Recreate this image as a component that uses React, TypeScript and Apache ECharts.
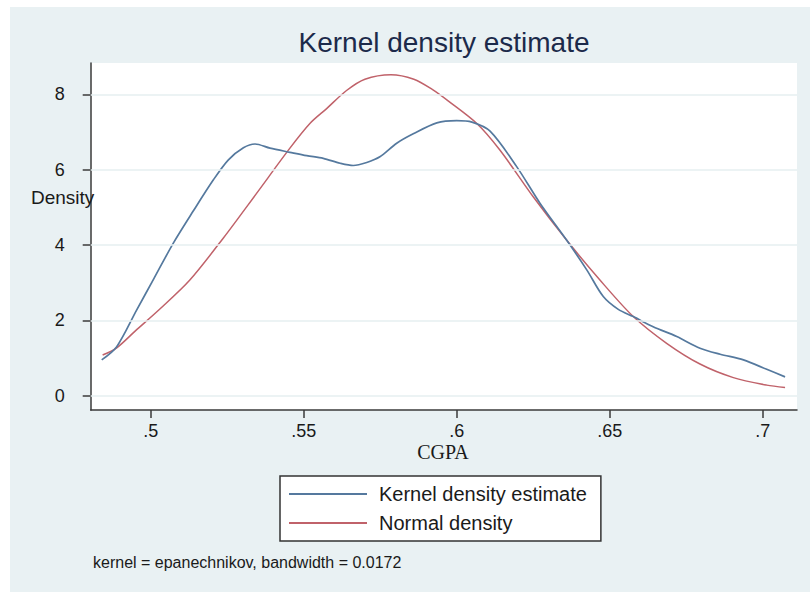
import { useEffect, useRef } from 'react';
import * as echarts from 'echarts';

const kernelX = [0.4840, 0.4889, 0.4954, 0.5010, 0.5074, 0.5139, 0.5205, 0.5254, 0.5303, 0.5341, 0.5390, 0.5455, 0.5510, 0.5564, 0.5619, 0.5662, 0.5706, 0.5749, 0.5804, 0.5858, 0.5935, 0.6000, 0.6050, 0.6109, 0.6196, 0.6272, 0.6359, 0.6425, 0.6479, 0.6528, 0.6577, 0.6642, 0.6719, 0.6795, 0.6861, 0.6937, 0.7013, 0.7073];
const kernelY = [0.95, 1.30, 2.27, 3.10, 4.05, 4.90, 5.73, 6.26, 6.58, 6.68, 6.57, 6.46, 6.37, 6.30, 6.17, 6.11, 6.19, 6.34, 6.70, 6.95, 7.24, 7.30, 7.26, 7.02, 6.08, 5.11, 4.13, 3.34, 2.63, 2.29, 2.10, 1.83, 1.57, 1.26, 1.10, 0.95, 0.70, 0.50];

const normalX = [0.4843, 0.4889, 0.4950, 0.5030, 0.5128, 0.5237, 0.5346, 0.5455, 0.5521, 0.5575, 0.5640, 0.5700, 0.5785, 0.5860, 0.5920, 0.5973, 0.6065, 0.6141, 0.6250, 0.6359, 0.6468, 0.6577, 0.6686, 0.6795, 0.6904, 0.7013, 0.7073];
const normalY = [1.08, 1.27, 1.72, 2.30, 3.07, 4.18, 5.37, 6.57, 7.23, 7.62, 8.10, 8.40, 8.52, 8.40, 8.13, 7.82, 7.23, 6.52, 5.28, 4.13, 3.07, 2.10, 1.39, 0.84, 0.48, 0.28, 0.22];

const xTicks = [0.5, 0.55, 0.6, 0.65, 0.7];
const xTickLabels = ['.5', '.55', '.6', '.65', '.7'];
const yTicks = [0, 2, 4, 6, 8];
const yTickLabels = ['0', '2', '4', '6', '8'];

const seriesNames = ['Kernel density estimate', 'Normal density'];
const titleText = 'Kernel density estimate';
const xName = 'CGPA';
const yName = 'Density';
const noteText = 'kernel = epanechnikov, bandwidth = 0.0172';

const SANS = '"Liberation Sans", Arial, sans-serif';
const SERIF = '"Liberation Serif", "Times New Roman", serif';
const BLUE = '#55799e';
const RED = '#c0626a';
const TEXT = '#1a1a1a';

export default function App() {
  const ref = useRef<HTMLDivElement>(null);

  useEffect(() => {
    document.body.style.margin = '0';
    document.body.style.background = '#ffffff';
    if (!ref.current) return;
    const chart = echarts.init(ref.current, undefined, { renderer: 'svg' });
    const fmtX = (v: number) => {
      const i = xTicks.findIndex((t) => Math.abs(t - v) < 1e-9);
      return i >= 0 ? xTickLabels[i] : '';
    };
    const fmtY = (v: number) => {
      const i = yTicks.findIndex((t) => Math.abs(t - v) < 1e-9);
      return i >= 0 ? yTickLabels[i] : '';
    };
    chart.setOption({
      animation: false,
      backgroundColor: 'transparent',
      grid: {
        left: 90.7,
        top: 63,
        right: 13,
        bottom: 182,
        show: true,
        backgroundColor: '#ffffff',
        borderWidth: 0,
        containLabel: false,
      },
      xAxis: {
        type: 'value',
        min: 0.4804,
        max: 0.7112,
        axisLine: { show: true, onZero: false, lineStyle: { color: '#3a3a3a', width: 1.5 } },
        axisTick: { show: true, inside: false, length: 8, customValues: xTicks, lineStyle: { color: '#3a3a3a', width: 1.5 } },
        axisLabel: { show: true, customValues: xTicks, formatter: fmtX, margin: 12, fontSize: 18, fontFamily: SANS, color: TEXT },
        splitLine: { show: false },
      },
      yAxis: {
        type: 'value',
        min: -0.38,
        max: 8.83,
        axisLine: { show: true, onZero: false, lineStyle: { color: '#3a3a3a', width: 1.5 } },
        axisTick: { show: true, inside: false, length: 8, customValues: yTicks, lineStyle: { color: '#3a3a3a', width: 1.5 } },
        axisLabel: { show: true, customValues: yTicks, formatter: fmtY, margin: 26, fontSize: 18, fontFamily: SANS, color: TEXT },
        splitLine: { show: false },
      },
      legend: {
        orient: 'vertical',
        left: 280,
        top: 476,
        padding: [6, 14, 6, 8],
        itemWidth: 78,
        itemHeight: 14,
        itemGap: 5,
        backgroundColor: '#ffffff',
        borderColor: '#333333',
        borderWidth: 1.5,
        borderRadius: 0,
        selectedMode: false,
        data: seriesNames,
        itemStyle: { opacity: 0 },
        textStyle: { fontSize: 20, lineHeight: 24, color: TEXT, fontFamily: SANS, padding: [0, 0, 0, 7] },
      },
      graphic: [
        { type: 'text', x: 444, y: 42, style: { text: titleText, font: `28px ${SANS}`, fill: '#1c2a4a', align: 'center', verticalAlign: 'middle' } },
        { type: 'text', x: 31, y: 197, z: 100, style: { text: yName, font: `19px ${SANS}`, fill: TEXT, align: 'left', verticalAlign: 'middle' } },
        { type: 'text', x: 443, y: 452, style: { text: xName, font: `20px ${SERIF}`, fill: TEXT, align: 'center', verticalAlign: 'middle' } },
        { type: 'text', x: 93, y: 562, style: { text: noteText, font: `16px ${SANS}`, fill: TEXT, align: 'left', verticalAlign: 'middle' } },
      ],
      series: [
        {
          type: 'line',
          name: '__grid',
          data: [],
          z: 1,
          markLine: {
            silent: true,
            symbol: ['none', 'none'],
            label: { show: false },
            lineStyle: { color: '#e6eff1', width: 1.5, type: 'solid' },
            data: yTicks.map((v) => ({ yAxis: v })),
          },
        },
        {
          type: 'line',
          name: seriesNames[1],
          data: normalX.map((x, i) => [x, normalY[i]]),
          symbol: 'none',
          showSymbol: false,
          smooth: 0.3,
          z: 2,
          lineStyle: { color: RED, width: 1.5 },
          itemStyle: { color: RED },
        },
        {
          type: 'line',
          name: seriesNames[0],
          data: kernelX.map((x, i) => [x, kernelY[i]]),
          symbol: 'none',
          showSymbol: false,
          smooth: 0.3,
          z: 3,
          lineStyle: { color: BLUE, width: 1.7 },
          itemStyle: { color: BLUE },
        },
      ],
    });
    return () => chart.dispose();
  }, []);

  return (
    <div style={{ position: 'relative', width: 810, height: 592, background: '#ffffff' }}>
      <div style={{ position: 'absolute', left: 10, top: 7, width: 800, height: 585, background: '#e9f1f3' }} />
      <div ref={ref} style={{ position: 'absolute', left: 0, top: 0, width: 810, height: 592 }} />
    </div>
  );
}
